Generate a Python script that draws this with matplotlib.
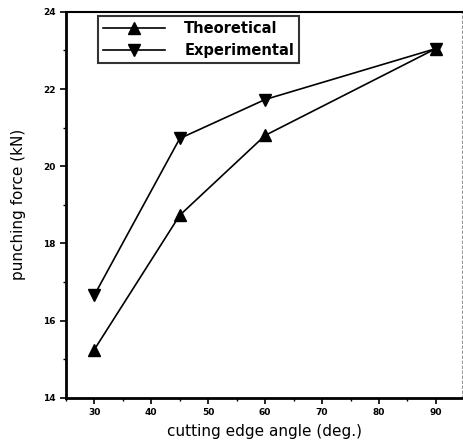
import matplotlib
matplotlib.use("Agg")
from matplotlib import pyplot as plt
from matplotlib.ticker import MultipleLocator

angles = [30, 45, 60, 90]
theoretical = [15.25, 18.73, 20.8, 23.05]
experimental = [16.66, 20.72, 21.73, 23.05]

plt.rcParams['font.family'] = ['DejaVu Sans']

fig = plt.figure(figsize=(4.64, 4.41), dpi=100)
ax = fig.add_axes([0.142, 0.098, 0.854, 0.875])

ax.plot(angles, theoretical, 'k-', marker='^', ms=9, lw=1.2, label='Theoretical')
ax.plot(angles, experimental, 'k-', marker='v', ms=9, lw=1.2, label='Experimental')

ax.set_xlim(25, 94.6)
ax.set_ylim(14, 24)
ax.xaxis.set_major_locator(MultipleLocator(10))
ax.xaxis.set_minor_locator(MultipleLocator(5))
ax.yaxis.set_major_locator(MultipleLocator(2))
ax.yaxis.set_minor_locator(MultipleLocator(1))
ax.tick_params(which='major', direction='out', length=4, width=1.2,
               labelsize=6.5, top=False, right=False)
ax.tick_params(which='minor', direction='out', length=2, width=1, top=False, right=False)
for lbl in ax.get_xticklabels() + ax.get_yticklabels():
    lbl.set_fontweight('bold')

ax.spines['left'].set_linewidth(2)
ax.spines['bottom'].set_linewidth(2)
ax.spines['top'].set_linewidth(1.5)
ax.spines['right'].set_linewidth(0.6)
ax.spines['right'].set_linestyle((0, (3, 3)))
ax.spines['right'].set_color('0.5')

ax.set_xlabel('cutting edge angle (deg.)', fontsize=11, labelpad=5)
ax.set_ylabel('punching force (kN)', fontsize=11, labelpad=12)

leg = ax.legend(loc='upper left', bbox_to_anchor=(0.08, 0.99), fontsize=10.5,
                handlelength=4.3, frameon=True, fancybox=False, edgecolor='k',
                borderpad=0.35, labelspacing=0.5, handletextpad=1.3,
                borderaxespad=0, markerscale=0.9)
leg.get_frame().set_linewidth(1.5)
for t in leg.get_texts():
    t.set_fontweight('bold')

fig.savefig('out.png', dpi=100)
